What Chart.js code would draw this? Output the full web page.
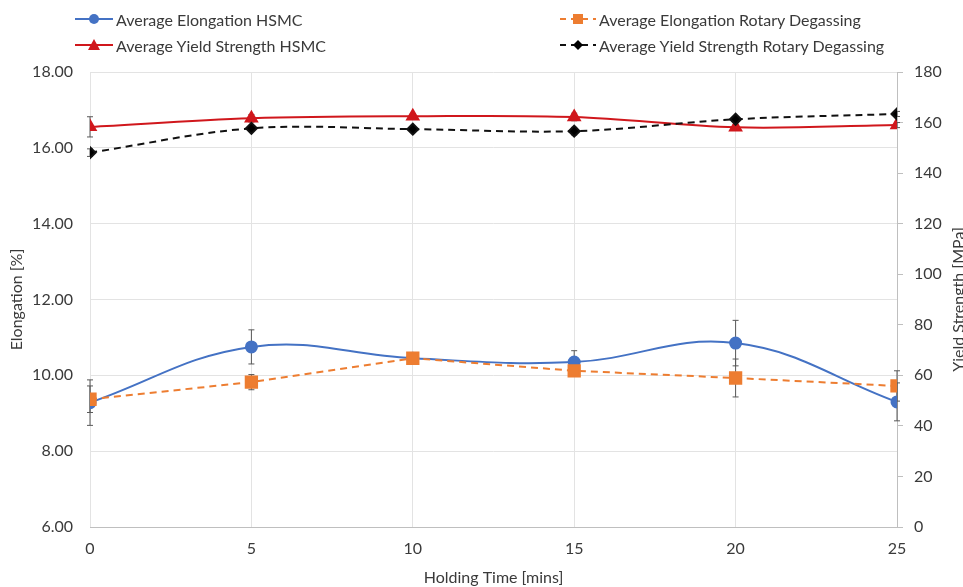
<!DOCTYPE html>
<html>
<head>
<meta charset="utf-8">
<script src="https://cdn.jsdelivr.net/npm/chart.js@4"></script>
<style>
  html, body { margin: 0; padding: 0; background: #fff; }
  #wrap { position: relative; width: 963px; height: 587px; overflow: hidden; }
  .lg { position: absolute; font-family: Lato, "Liberation Sans", sans-serif; font-size: 16px; color: #3a3a3a; white-space: nowrap; display: flex; align-items: center; }
  .lg svg { margin-right: 3px; }
</style>
</head>
<body>
<div id="wrap">
  <canvas id="chart" width="963" height="587"></canvas>
  <div class="lg" style="left:75px; top:9px;">
    <svg width="38" height="20"><line x1="0" y1="10" x2="38" y2="10" stroke="#4472C4" stroke-width="2"/><circle cx="19" cy="10" r="5" fill="#4472C4"/></svg>Average Elongation HSMC
  </div>
  <div class="lg" style="left:75px; top:35px;">
    <svg width="38" height="20"><line x1="0" y1="10" x2="38" y2="10" stroke="#D0171C" stroke-width="2"/><polygon points="19,4 25,15 13,15" fill="#D0171C"/></svg>Average Yield Strength HSMC
  </div>
  <div class="lg" style="left:560px; top:9px;">
    <svg width="36" height="20"><line x1="0" y1="10" x2="36" y2="10" stroke="#ED7D31" stroke-width="2" stroke-dasharray="6,5"/><rect x="13" y="5" width="10" height="10" fill="#ED7D31"/></svg>Average Elongation Rotary Degassing
  </div>
  <div class="lg" style="left:560px; top:35px;">
    <svg width="36" height="20"><line x1="0" y1="10" x2="36" y2="10" stroke="#111" stroke-width="2" stroke-dasharray="6,5"/><polygon points="18,5 23,10 18,15 13,10" fill="#000"/></svg>Average Yield Strength Rotary Degassing
  </div>
</div>
<script>
// holding time (mins)
const holdingTime = [0, 5, 10, 15, 20, 25];

// elongation [%]
const elongHSMC = [9.28, 10.75, 10.45, 10.35, 10.85, 9.30];
const elongHSMCErr = [0.6, 0.45, 0.05, 0.3, 0.6, 0.5];
const elongRD = [9.37, 9.82, 10.45, 10.12, 9.93, 9.72];
const elongRDErr = [0.35, 0.2, 0.08, 0.1, 0.5, 0.4];

// yield strength [MPa]
const ysHSMC = [158.3, 161.7, 162.5, 162.2, 158.1, 159.0];
const ysHSMCErr = [4, 1.5, 1, 1.5, 1, 1];
const ysRD = [148.1, 157.7, 157.4, 156.6, 161.3, 163.4];
const ysRDErr = [1.5, 1, 1, 1.5, 1, 1];

const fontFamily = 'Lato, "Liberation Sans", sans-serif';
const font = { family: fontFamily, size: 16 };
const textColor = '#3a3a3a';

const toPts = ys => holdingTime.map((x, i) => ({ x: x, y: ys[i] }));

// draws vertical error bars under the markers
const errorBars = {
  id: 'errorBars',
  beforeDatasetsDraw(chart) {
    const ctx = chart.ctx;
    chart.data.datasets.forEach((ds, di) => {
      if (!ds.errors) return;
      const meta = chart.getDatasetMeta(di);
      const yScale = chart.scales[ds.yAxisID];
      ctx.save();
      ctx.strokeStyle = '#595959';
      ctx.lineWidth = 1;
      meta.data.forEach((pt, i) => {
        const v = ds.data[i].y, e = ds.errors[i];
        const top = yScale.getPixelForValue(v + e);
        const bot = yScale.getPixelForValue(v - e);
        ctx.beginPath();
        ctx.moveTo(pt.x, top); ctx.lineTo(pt.x, bot);
        ctx.moveTo(pt.x - 3, top); ctx.lineTo(pt.x + 3, top);
        ctx.moveTo(pt.x - 3, bot); ctx.lineTo(pt.x + 3, bot);
        ctx.stroke();
      });
      ctx.restore();
    });
  }
};

// right axis title, rotated to read bottom-to-top like the left one
const rightTitle = {
  id: 'rightTitle',
  afterDraw(chart) {
    const ctx = chart.ctx;
    const area = chart.chartArea;
    ctx.save();
    ctx.translate(964, (area.top + area.bottom) / 2);
    ctx.rotate(-Math.PI / 2);
    ctx.font = '16px ' + fontFamily;
    ctx.fillStyle = textColor;
    ctx.textAlign = 'center';
    ctx.textBaseline = 'alphabetic';
    ctx.fillText('Yield Strength [MPa]', 0, 0);
    ctx.restore();
  }
};

new Chart(document.getElementById('chart'), {
  type: 'line',
  data: {
    datasets: [
      {
        label: 'Average Elongation Rotary Degassing',
        data: toPts(elongRD), errors: elongRDErr, yAxisID: 'y',
        borderColor: '#ED7D31', backgroundColor: '#ED7D31', borderWidth: 2,
        borderDash: [7, 5], tension: 0, pointStyle: 'rect', pointRadius: 8, pointHoverRadius: 8
      },
      {
        label: 'Average Elongation HSMC',
        data: toPts(elongHSMC), errors: elongHSMCErr, yAxisID: 'y',
        borderColor: '#4472C4', backgroundColor: '#4472C4', borderWidth: 2,
        tension: 0.4, pointStyle: 'circle', pointRadius: 5.5, pointHoverRadius: 5.5
      },
      {
        label: 'Average Yield Strength Rotary Degassing',
        data: toPts(ysRD), errors: ysRDErr, yAxisID: 'y1',
        borderColor: '#111', backgroundColor: '#000', borderWidth: 2,
        borderDash: [7, 5], tension: 0.35, pointStyle: 'rectRot', pointRadius: 5.5, pointHoverRadius: 5.5
      },
      {
        label: 'Average Yield Strength HSMC',
        data: toPts(ysHSMC), errors: ysHSMCErr, yAxisID: 'y1',
        borderColor: '#D0171C', backgroundColor: '#D0171C', borderWidth: 2,
        tension: 0.35, pointStyle: 'triangle', pointRadius: 6.5, pointHoverRadius: 6.5
      }
    ]
  },
  options: {
    responsive: false,
    animation: false,
    layout: { padding: { top: 72, left: 0, right: 0, bottom: 0 } },
    plugins: { legend: { display: false }, tooltip: { enabled: false } },
    scales: {
      x: {
        type: 'linear', min: 0, max: 25,
        afterFit: s => { s.height = 60; },
        ticks: { stepSize: 5, color: textColor, font: font, padding: 12 },
        grid: { color: '#e3e3e3', drawTicks: false },
        border: { color: '#bfbfbf' },
        title: { display: true, text: 'Holding Time [mins]', color: textColor, font: font, padding: { top: 0, bottom: 0 } }
      },
      y: {
        position: 'left', min: 6, max: 18,
        afterFit: s => { s.width = 90; },
        ticks: { stepSize: 2, color: textColor, font: font, padding: 17, callback: v => v.toFixed(2) },
        grid: { color: '#e3e3e3', drawTicks: false },
        border: { display: false },
        title: { display: true, text: 'Elongation [%]', color: textColor, font: font, padding: { top: 7, bottom: 0 } }
      },
      y1: {
        position: 'right', min: 0, max: 180,
        afterFit: s => { s.width = 66; },
        ticks: { stepSize: 20, color: textColor, font: font, padding: 11 },
        grid: { drawOnChartArea: false, color: '#bfbfbf', tickLength: 6 },
        border: { color: '#bfbfbf' },
        title: { display: false }
      }
    }
  },
  plugins: [errorBars, rightTitle]
});
</script>
</body>
</html>
